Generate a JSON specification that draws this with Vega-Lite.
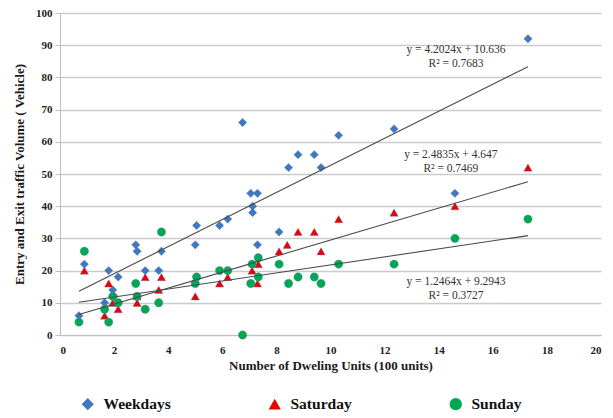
{
  "$schema": "https://vega.github.io/schema/vega-lite/v6.json",
  "autosize": {"type": "none"},
  "width": 541,
  "height": 322,
  "padding": {"left": 60, "top": 13, "right": 12, "bottom": 83},
  "background": "white",
  "config": {
    "view": {"stroke": null},
    "font": "Liberation Serif",
    "axis": {
      "labelFont": "Liberation Serif",
      "labelFontWeight": "bold",
      "labelFontSize": 11,
      "labelColor": "#222222",
      "titleFont": "Liberation Serif",
      "titleFontWeight": "bold",
      "titleFontSize": 13,
      "titleColor": "#1a1a1a",
      "domainColor": "#c0c0c0",
      "tickColor": "#c0c0c0",
      "gridColor": "#cbcbcb",
      "gridWidth": 1.6
    }
  },
  "datasets": {
    "pts": [
      {"x": 0.7, "y": 6, "day": "Weekdays"},
      {"x": 0.9, "y": 22, "day": "Weekdays"},
      {"x": 1.65, "y": 10, "day": "Weekdays"},
      {"x": 1.8, "y": 20, "day": "Weekdays"},
      {"x": 1.95, "y": 14, "day": "Weekdays"},
      {"x": 2.0, "y": 12, "day": "Weekdays"},
      {"x": 2.15, "y": 18, "day": "Weekdays"},
      {"x": 2.8, "y": 28, "day": "Weekdays"},
      {"x": 2.85, "y": 26, "day": "Weekdays"},
      {"x": 3.15, "y": 20, "day": "Weekdays"},
      {"x": 3.65, "y": 20, "day": "Weekdays"},
      {"x": 3.75, "y": 26, "day": "Weekdays"},
      {"x": 5.0, "y": 28, "day": "Weekdays"},
      {"x": 5.05, "y": 34, "day": "Weekdays"},
      {"x": 5.9, "y": 34, "day": "Weekdays"},
      {"x": 6.2, "y": 36, "day": "Weekdays"},
      {"x": 6.75, "y": 66, "day": "Weekdays"},
      {"x": 7.05, "y": 44, "day": "Weekdays"},
      {"x": 7.12, "y": 40, "day": "Weekdays"},
      {"x": 7.12, "y": 38, "day": "Weekdays"},
      {"x": 7.3, "y": 44, "day": "Weekdays"},
      {"x": 7.3, "y": 28, "day": "Weekdays"},
      {"x": 8.1, "y": 32, "day": "Weekdays"},
      {"x": 8.45, "y": 52, "day": "Weekdays"},
      {"x": 8.8, "y": 56, "day": "Weekdays"},
      {"x": 9.4, "y": 56, "day": "Weekdays"},
      {"x": 9.65, "y": 52, "day": "Weekdays"},
      {"x": 10.3, "y": 62, "day": "Weekdays"},
      {"x": 12.35, "y": 64, "day": "Weekdays"},
      {"x": 14.6, "y": 44, "day": "Weekdays"},
      {"x": 17.3, "y": 92, "day": "Weekdays"},
      {"x": 0.9, "y": 20, "day": "Saturday"},
      {"x": 1.65, "y": 6, "day": "Saturday"},
      {"x": 1.8, "y": 16, "day": "Saturday"},
      {"x": 1.95, "y": 10, "day": "Saturday"},
      {"x": 2.15, "y": 8, "day": "Saturday"},
      {"x": 2.85, "y": 10, "day": "Saturday"},
      {"x": 2.85, "y": 12, "day": "Saturday"},
      {"x": 3.15, "y": 18, "day": "Saturday"},
      {"x": 3.65, "y": 14, "day": "Saturday"},
      {"x": 3.75, "y": 18, "day": "Saturday"},
      {"x": 5.0, "y": 12, "day": "Saturday"},
      {"x": 5.9, "y": 16, "day": "Saturday"},
      {"x": 6.2, "y": 18, "day": "Saturday"},
      {"x": 7.1, "y": 20, "day": "Saturday"},
      {"x": 7.33, "y": 22, "day": "Saturday"},
      {"x": 7.3, "y": 16, "day": "Saturday"},
      {"x": 8.1, "y": 26, "day": "Saturday"},
      {"x": 8.4, "y": 28, "day": "Saturday"},
      {"x": 8.8, "y": 32, "day": "Saturday"},
      {"x": 9.4, "y": 32, "day": "Saturday"},
      {"x": 9.65, "y": 26, "day": "Saturday"},
      {"x": 10.3, "y": 36, "day": "Saturday"},
      {"x": 12.35, "y": 38, "day": "Saturday"},
      {"x": 14.6, "y": 40, "day": "Saturday"},
      {"x": 17.3, "y": 52, "day": "Saturday"},
      {"x": 0.9, "y": 26, "day": "Sunday"},
      {"x": 0.7, "y": 4, "day": "Sunday"},
      {"x": 1.65, "y": 8, "day": "Sunday"},
      {"x": 1.8, "y": 4, "day": "Sunday"},
      {"x": 1.95, "y": 12, "day": "Sunday"},
      {"x": 2.15, "y": 10, "day": "Sunday"},
      {"x": 2.8, "y": 16, "day": "Sunday"},
      {"x": 2.85, "y": 12, "day": "Sunday"},
      {"x": 3.15, "y": 8, "day": "Sunday"},
      {"x": 3.65, "y": 10, "day": "Sunday"},
      {"x": 3.75, "y": 32, "day": "Sunday"},
      {"x": 5.0, "y": 16, "day": "Sunday"},
      {"x": 5.05, "y": 18, "day": "Sunday"},
      {"x": 5.9, "y": 20, "day": "Sunday"},
      {"x": 6.2, "y": 20, "day": "Sunday"},
      {"x": 6.75, "y": 0, "day": "Sunday"},
      {"x": 7.05, "y": 16, "day": "Sunday"},
      {"x": 7.1, "y": 22, "day": "Sunday"},
      {"x": 7.33, "y": 24, "day": "Sunday"},
      {"x": 7.33, "y": 18, "day": "Sunday"},
      {"x": 8.1, "y": 22, "day": "Sunday"},
      {"x": 8.45, "y": 16, "day": "Sunday"},
      {"x": 8.8, "y": 18, "day": "Sunday"},
      {"x": 9.4, "y": 18, "day": "Sunday"},
      {"x": 9.65, "y": 16, "day": "Sunday"},
      {"x": 10.3, "y": 22, "day": "Sunday"},
      {"x": 12.35, "y": 22, "day": "Sunday"},
      {"x": 14.6, "y": 30, "day": "Sunday"},
      {"x": 17.3, "y": 36, "day": "Sunday"}
    ],
    "trend": [
      {"x": 0.7, "y": 13.58, "day": "Weekdays"},
      {"x": 17.3, "y": 83.34, "day": "Weekdays"},
      {"x": 0.7, "y": 6.39, "day": "Saturday"},
      {"x": 17.3, "y": 47.61, "day": "Saturday"},
      {"x": 0.7, "y": 10.17, "day": "Sunday"},
      {"x": 17.3, "y": 30.86, "day": "Sunday"}
    ],
    "labels": [
      {"x": 14.64, "y": 88.5, "t": "y = 4.2024x  + 10.636"},
      {"x": 14.64, "y": 84.2, "t": "R² = 0.7683"},
      {"x": 14.45, "y": 55.9, "t": "y = 2.4835x  + 4.647"},
      {"x": 14.45, "y": 51.6, "t": "R² = 0.7469"},
      {"x": 14.64, "y": 16.5, "t": "y = 1.2464x  + 9.2943"},
      {"x": 14.64, "y": 12.1, "t": "R² = 0.3727"}
    ]
  },
  "encoding": {
    "x": {
      "field": "x", "type": "quantitative",
      "scale": {"domain": [0, 20], "nice": false},
      "axis": {
        "title": "Number of Dweling  Units  (100 units)",
        "values": [0, 2, 4, 6, 8, 10, 12, 14, 16, 18, 20],
        "grid": false, "ticks": false, "domain": true,
        "labelPadding": 9, "titlePadding": 4
      }
    },
    "y": {
      "field": "y", "type": "quantitative",
      "scale": {"domain": [0, 100], "nice": false},
      "axis": {
        "title": "Entry and Exit traffic Volume  ( Vehicle)",
        "values": [0, 10, 20, 30, 40, 50, 60, 70, 80, 90, 100],
        "grid": true, "ticks": true, "tickSize": 5,
        "labelPadding": 3, "titlePadding": 9
      }
    }
  },
  "layer": [
    {
      "data": {"name": "pts"},
      "mark": {"type": "point", "filled": true, "opacity": 1, "size": 70, "stroke": "#5b7fb8", "strokeWidth": 0.4},
      "encoding": {
        "color": {
          "field": "day", "type": "nominal",
          "scale": {"domain": ["Weekdays", "Saturday", "Sunday"], "range": ["#3f77c0", "#ee0000", "#00a84f"]},
          "legend": {
            "title": null, "orient": "none", "direction": "horizontal",
            "legendX": 20, "legendY": 383, "columns": 3, "columnPadding": 96,
            "labelFont": "Liberation Serif", "labelFontWeight": "bold", "labelFontSize": 15.5,
            "labelColor": "#111111", "symbolSize": 150, "labelOffset": 8, "symbolStrokeWidth": 0
          }
        },
        "shape": {
          "field": "day", "type": "nominal",
          "scale": {"domain": ["Weekdays", "Saturday", "Sunday"], "range": ["diamond", "triangle-up", "circle"]}
        }
      }
    },
    {
      "data": {"name": "trend"},
      "mark": {"type": "line", "color": "#4a4a4a", "strokeWidth": 1.1},
      "encoding": {"detail": {"field": "day", "type": "nominal"}}
    },
    {
      "data": {"name": "labels"},
      "mark": {"type": "text", "font": "Liberation Serif", "fontSize": 11.5, "color": "#333333", "align": "center", "baseline": "middle"},
      "encoding": {"text": {"field": "t", "type": "nominal"}}
    }
  ]
}
